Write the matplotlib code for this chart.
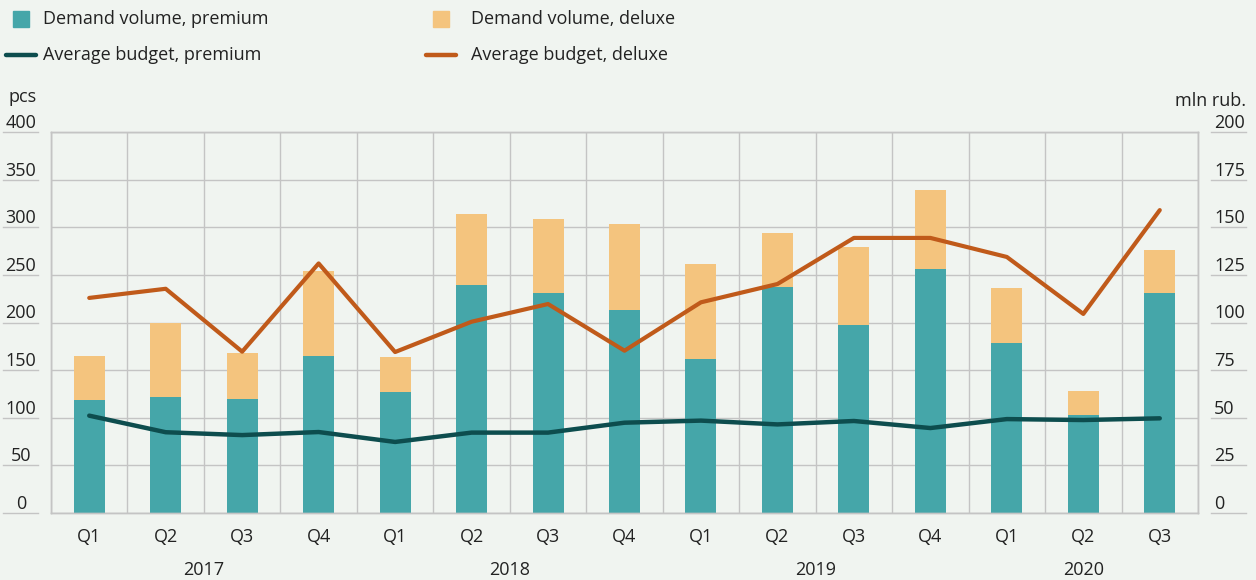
import matplotlib

matplotlib.use("Agg")

import matplotlib.pyplot as plt
import numpy as np
from matplotlib.lines import Line2D
from matplotlib.patches import Rectangle
from matplotlib.transforms import blended_transform_factory

quarters = ["Q1", "Q2", "Q3", "Q4", "Q1", "Q2", "Q3", "Q4",
            "Q1", "Q2", "Q3", "Q4", "Q1", "Q2", "Q3"]
years = ["2017", "2018", "2019", "2020"]
year_of_bar = [0, 0, 0, 0, 1, 1, 1, 1, 2, 2, 2, 2, 3, 3, 3]

# demand volume, pcs (left axis)
volume_premium = [119, 122, 120, 165, 127, 239, 231, 213, 162, 237, 197, 256, 178, 103, 231]
volume_total = [165, 200, 168, 254, 164, 314, 309, 303, 261, 294, 279, 339, 236, 128, 276]
volume_deluxe = [t - p for t, p in zip(volume_total, volume_premium)]

# average budget, mln rub. (right axis)
budget_premium = [51.1, 42.4, 40.9, 42.5, 37.3, 42.2, 42.2, 47.4, 48.5, 46.5, 48.3, 44.6, 49.3, 48.8, 49.7]
budget_deluxe = [112.9, 117.7, 84.7, 131.0, 84.5, 100.4, 109.7, 85.2, 110.6, 120.2, 144.4, 144.4, 134.4, 104.5, 159.0]

left_ticks = [0, 50, 100, 150, 200, 250, 300, 350, 400]
right_ticks = [0, 25, 50, 75, 100, 125, 150, 175, 200]

BG = "#f0f4f0"
TEAL = "#45a6a9"
SAND = "#f4c47e"
RUST = "#c05a1a"
DARK = "#0d4d4e"
GRID = "#c4c4c4"
TXT = "#222222"

plt.rcParams.update({"font.family": ["Open Sans", "DejaVu Sans"], "font.size": 13, "text.color": TXT})

fig = plt.figure(figsize=(12.56, 5.8), dpi=100, facecolor=BG)
W, H = 1256, 580
ax = fig.add_axes([51 / W, 1 - 513 / H, (1198 - 51) / W, (513 - 132) / H])
ax.set_facecolor(BG)
ax2 = ax.twinx()

x = np.arange(len(quarters))
ax.bar(x, volume_premium, width=0.405, color=TEAL, zorder=2)
ax.bar(x, volume_deluxe, width=0.405, bottom=volume_premium, color=SAND, zorder=2)
ax2.plot(x, budget_premium, color=DARK, lw=3.2, solid_capstyle="round", solid_joinstyle="round", zorder=3)
ax2.plot(x, budget_deluxe, color=RUST, lw=3.0, solid_capstyle="round", solid_joinstyle="round", zorder=3)

ax.set_xlim(-0.5, len(quarters) - 0.5)
ax.set_ylim(0, 400)
ax2.set_ylim(0, 200)

# grid: horizontal at ticks, vertical between quarters
ax.set_yticks(left_ticks)
ax.set_xticks(np.arange(-0.5, len(quarters) + 0.5, 1), minor=True)
ax.grid(True, axis="y", color=GRID, lw=1.0, zorder=0)
ax.grid(True, axis="x", which="minor", color=GRID, lw=1.0, zorder=0)
ax.set_axisbelow(True)
for a in (ax, ax2):
    for s in a.spines.values():
        s.set_color(GRID)
        s.set_linewidth(1.0)
    a.tick_params(which="both", length=0, labelleft=False, labelright=False, labelbottom=False)

# y tick labels with short underlines, outside the plot
tl = blended_transform_factory(fig.transFigure, ax.transData)
tr = blended_transform_factory(fig.transFigure, ax2.transData)
for v in left_ticks:
    ax.add_line(Line2D([3 / W, 38 / W], [v, v], transform=tl, color=GRID, lw=1.0, clip_on=False))
    ax.text(21 / W, v, str(v), transform=tl, ha="center", va="bottom", fontsize=13)
for v in right_ticks:
    ax2.add_line(Line2D([1211 / W, 1246 / W], [v, v], transform=tr, color=GRID, lw=1.0, clip_on=False))
    ax2.text(1214 / W, v, str(v), transform=tr, ha="left", va="bottom", fontsize=13)
fig.text(8 / W, 1 - 97 / H, "pcs", ha="left", va="center", fontsize=13)
fig.text(1246 / W, 1 - 101 / H, "mln rub.", ha="right", va="center", fontsize=13)

# x labels: quarters, then years centred under their quarters
tb = blended_transform_factory(ax.transData, fig.transFigure)
for i, q in enumerate(quarters):
    ax.text(i, 1 - 537 / H, q, transform=tb, ha="center", va="center", fontsize=13)
for k, yr in enumerate(years):
    pos = [i for i, y in enumerate(year_of_bar) if y == k]
    ax.text(np.mean(pos), 1 - 570 / H, yr, transform=tb, ha="center", va="center", fontsize=13)

# legend, laid out by hand
items = [
    ("bar", TEAL, "Demand volume, premium", 21, 43, 19),
    ("bar", SAND, "Demand volume, deluxe", 441, 471, 19),
    ("line", DARK, "Average budget, premium", 21, 43, 55),
    ("line", RUST, "Average budget, deluxe", 441, 471, 55),
]
for kind, color, label, hx, tx, ty in items:
    if kind == "bar":
        fig.add_artist(Rectangle(((hx - 8) / W, 1 - (ty + 8) / H), 16 / W, 16 / H,
                                 transform=fig.transFigure, color=color))
    else:
        fig.add_artist(Line2D([(hx - 15) / W, (hx + 15) / W], [1 - ty / H, 1 - ty / H],
                              transform=fig.transFigure, color=color, lw=3.2, solid_capstyle="round"))
    fig.text(tx / W, 1 - ty / H, label, ha="left", va="center", fontsize=13)

fig.savefig("out.png", dpi=100, facecolor=BG)
